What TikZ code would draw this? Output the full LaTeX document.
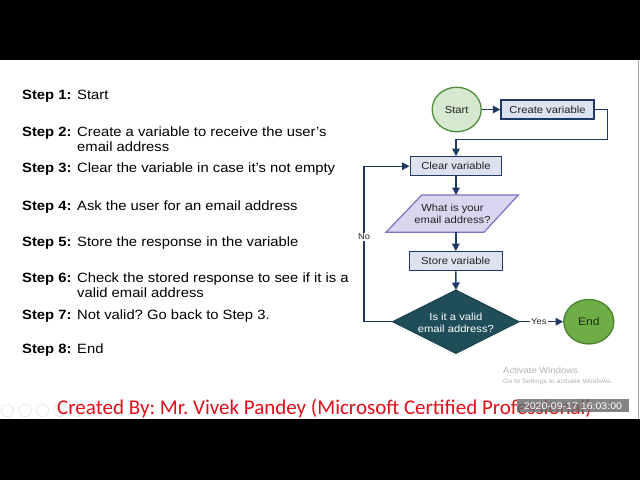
\documentclass[tikz,border=0pt]{standalone}
\usepackage{fontspec}
\setmainfont{Liberation Sans}
\newfontfamily\calfont{Carlito}
\usetikzlibrary{shapes.geometric,arrows.meta}
\frenchspacing
\newcommand\sx[1]{\scalebox{1.1}[1]{#1}}
\newcommand\stepfont{\fontsize{13.45}{15.5}\selectfont}
\newcommand\fcfont{\fontsize{10.2}{12.4}\selectfont}
\newcommand\smfont{\fontsize{8.5}{10}\selectfont}
\definecolor{navy}{HTML}{1F3864}
\definecolor{boxfill}{HTML}{DCE2EE}
\definecolor{startfill}{HTML}{D6E9D0}
\definecolor{startdraw}{HTML}{4E8C3A}
\definecolor{askfill}{HTML}{DCD5F0}
\definecolor{askdraw}{HTML}{7F70C0}
\definecolor{validfill}{HTML}{1F4E59}
\definecolor{validdraw}{HTML}{1A434D}
\definecolor{endfill}{HTML}{6FAE46}
\definecolor{enddraw}{HTML}{4C8030}
\definecolor{endtxt}{HTML}{1E2A14}
\definecolor{txtc}{HTML}{222222}
\definecolor{redc}{HTML}{E0101A}
\definecolor{tsgray}{HTML}{6A6A6A}
\begin{document}
\begin{tikzpicture}[x=1pt,y=-1pt,
  box/.style={draw=navy, line width=1.2pt, fill=boxfill, minimum width=93pt, minimum height=19pt, inner sep=0pt, font=\fcfont, text=txtc},
  fctext/.style={align=center, font=\fcfont, inner sep=0pt, text=txtc},
  startc/.style={ellipse, draw=startdraw, fill=startfill, line width=1.3pt, minimum width=49pt, minimum height=44.5pt, inner sep=0pt, font=\fcfont, text=txtc},
  endc/.style={ellipse, draw=enddraw, fill=endfill, line width=1.3pt, minimum width=50pt, minimum height=44.5pt, inner sep=0pt, font=\fontsize{11}{13}\selectfont, text=endtxt},
  askshape/.style={draw=askdraw, fill=askfill, line width=1.2pt, line join=miter},
  validshape/.style={draw=validdraw, fill=validfill, line width=1pt},
  arr/.style={draw=navy, line width=1.4pt, -{Triangle[length=7.5pt,width=7.5pt]}},
  lbl/.style={fill=white, inner sep=1.2pt, font=\smfont, text=txtc},
  steplbl/.style={anchor=base west, inner sep=0pt, font=\stepfont\bfseries, text=black},
  stepdesc/.style={anchor=base west, inner sep=0pt, font=\stepfont, text=black},
  faint/.style={anchor=base west, inner sep=0pt, text=black!30}
]
\useasboundingbox (0,0) rectangle (640,480);
\fill[white] (0,0) rectangle (640,480);
\fill[black] (0,0) rectangle (640,60);
\fill[black] (0,419) rectangle (640,480);
\draw[black!35, line width=1pt] (638.5,60) -- (638.5,419);

% steps
\node[steplbl] (s1) at (22,99) {\sx{Step 1:}};
\node[stepdesc] (d1) at (77,99) {\sx{Start}};
\node[steplbl] (s2) at (22,136) {\sx{Step 2:}};
\node[stepdesc] (d2) at (77,136) {\sx{Create a variable to receive the user’s}};
\node[stepdesc] (d2b) at (77,151.5) {\sx{email address}};
\node[steplbl] (s3) at (22,172) {\sx{Step 3:}};
\node[stepdesc] (d3) at (77,172) {\sx{Clear the variable in case it’s not empty}};
\node[steplbl] (s4) at (22,210) {\sx{Step 4:}};
\node[stepdesc] (d4) at (77,210) {\sx{Ask the user for an email address}};
\node[steplbl] (s5) at (22,246) {\sx{Step 5:}};
\node[stepdesc] (d5) at (77,246) {\sx{Store the response in the variable}};
\node[steplbl] (s6) at (22,282) {\sx{Step 6:}};
\node[stepdesc] (d6) at (77,282) {\sx{Check the stored response to see if it is a}};
\node[stepdesc] (d6b) at (77,297.5) {\sx{valid email address}};
\node[steplbl] (s7) at (22,319) {\sx{Step 7:}};
\node[stepdesc] (d7) at (77,319) {\sx{Not valid? Go back to Step 3.}};
\node[steplbl] (s8) at (22,353) {\sx{Step 8:}};
\node[stepdesc] (d8) at (77,353) {\sx{End}};

% flowchart
\node[startc] (start) at (456.7,109.5) {\sx{Start}};
\node[box] (create) at (547.5,109.5) {\sx{Create variable}};
\node[box, minimum width=91.7pt] (clear) at (456,166.2) {\sx{Clear variable}};
\coordinate (pTL) at (421.7,195);
\coordinate (pTR) at (518.3,195);
\coordinate (pBR) at (484,232.3);
\coordinate (pBL) at (386,232.3);
\draw[askshape] (pTL) -- (pTR) -- (pBR) -- (pBL) -- cycle;
\node[fctext] (ask) at (452.5,214) {\sx{What is your}\\\sx{email address?}};
\node[box] (store) at (455.8,261.2) {\sx{Store variable}};
\coordinate (vN) at (455.9,290);
\coordinate (vE) at (519,321.7);
\coordinate (vS) at (455.9,353.4);
\coordinate (vW) at (392.7,321.7);
\draw[validshape] (vN) -- (vE) -- (vS) -- (vW) -- cycle;
\node[fctext, text=white] (valid) at (455.9,323) {\sx{Is it a valid}\\\sx{email address?}};
\node[endc] (endc) at (588.8,321.7) {\sx{End}};

% connectors
\draw[arr] (start.east) -- (create.west);
\coordinate (cturn) at (607.7,139.3);
\draw[arr] (create.east) -| (cturn) -| (clear.north);
\draw[arr] (clear.south) -- (clear.south |- pTL);
\draw[arr] (store.north |- pBL) -- (store.north);
\draw[arr] (store.south) -- (vN);
\draw[arr] (vE) -- node[lbl, pos=0.45]{\sx{Yes}} (endc.west);
\coordinate (noX) at (364,321.7);
\draw[arr] (vW) -- (noX) -- node[lbl, pos=0.545]{\sx{No}} (noX |- clear.west) -- (clear.west);

% footer overlay
\foreach \cx in {7.5,25,42.5,60,77.5} \draw[black!9, line width=0.7pt] (\cx,410.5) circle (6.2);
\node[faint, font=\fontsize{8.6}{10}\selectfont] (act1) at (503,373.3) {\sx{Activate Windows}};
\node[faint, font=\fontsize{6.3}{8}\selectfont] (act2) at (503,383) {\sx{Go to Settings to activate Windows.}};
\node[anchor=base west, inner sep=0pt, font=\calfont\fontsize{21}{25}\selectfont, text=redc] (credit) at (57,414.5) {Created By: Mr. Vivek Pandey (Microsoft Certified Professional)};
\node[fill=tsgray, fill opacity=0.82, text opacity=1, text=white, minimum width=112pt, minimum height=13.5pt, inner sep=0pt, font=\fontsize{9.6}{11}\selectfont] (ts) at (573,405.7) {\sx{2020-09-17 16:03:00}};
\end{tikzpicture}
\end{document}
